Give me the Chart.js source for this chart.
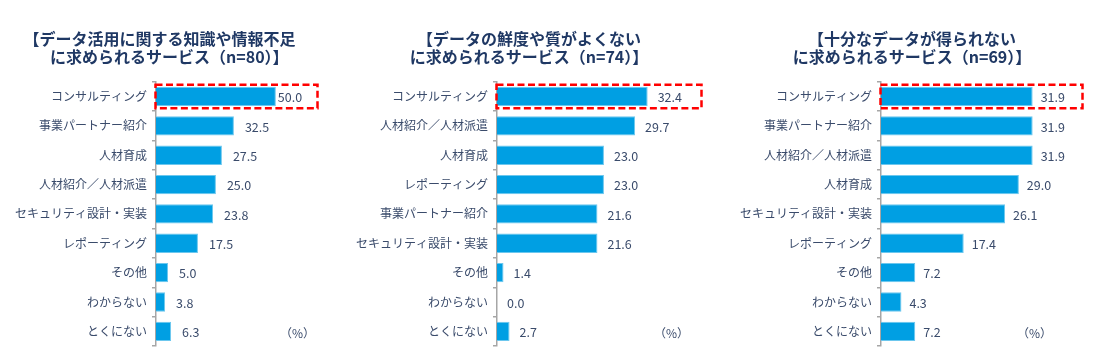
<!DOCTYPE html>
<html>
<head>
<meta charset="utf-8">
<script src="https://cdn.jsdelivr.net/npm/chart.js@4"></script>
<style>
  body { margin: 0; background: #fff; }
  .wrap { position: relative; width: 1093px; height: 360px; }
  .panel { position: absolute; top: 0; height: 360px; }
</style>
</head>
<body>
<div class="wrap">
  <div class="panel" style="left:0;width:365px"><canvas id="chart1"></canvas></div>
  <div class="panel" style="left:355px;width:385px"><canvas id="chart2"></canvas></div>
  <div class="panel" style="left:740px;width:353px"><canvas id="chart3"></canvas></div>
</div>
<script>
// データ
var labels1 = ['コンサルティング', '事業パートナー紹介', '人材育成', '人材紹介／人材派遣', 'セキュリティ設計・実装', 'レポーティング', 'その他', 'わからない', 'とくにない'];
var values1 = [50.0, 32.5, 27.5, 25.0, 23.8, 17.5, 5.0, 3.8, 6.3];
var title1 = ['【データ活用に関する知識や情報不足', '　 に求められるサービス（n=80）】'];

var labels2 = ['コンサルティング', '人材紹介／人材派遣', '人材育成', 'レポーティング', '事業パートナー紹介', 'セキュリティ設計・実装', 'その他', 'わからない', 'とくにない'];
var values2 = [32.4, 29.7, 23.0, 23.0, 21.6, 21.6, 1.4, 0.0, 2.7];
var title2 = ['【データの鮮度や質がよくない', 'に求められるサービス（n=74）】'];

var labels3 = ['コンサルティング', '事業パートナー紹介', '人材紹介／人材派遣', '人材育成', 'セキュリティ設計・実装', 'レポーティング', 'その他', 'わからない', 'とくにない'];
var values3 = [31.9, 31.9, 31.9, 29.0, 26.1, 17.4, 7.2, 4.3, 7.2];
var title3 = ['【十分なデータが得られない', 'に求められるサービス（n=69）】'];

var FONT = "'Noto Sans CJK JP', 'Noto Sans', sans-serif";
var TEXT = '#3A4B6B';
var NAVY = '#1F3864';

// 値ラベル・赤い点線枠・（%）
var extras = {
  id: 'extras',
  afterDatasetsDraw: function(chart, args, opts) {
    var ctx = chart.ctx;
    var meta = chart.getDatasetMeta(0);
    var area = chart.chartArea;
    ctx.save();
    ctx.font = '12.5px ' + FONT;
    ctx.fillStyle = TEXT;
    ctx.textBaseline = 'middle';
    ctx.textAlign = 'left';
    meta.data.forEach(function(bar, i) {
      var v = chart.data.datasets[0].data[i];
      var gap = (i == 0 && opts.firstGap != null) ? opts.firstGap : opts.gap;
      ctx.fillText(v.toFixed(1), bar.x + gap, bar.y + 1);
    });

    // 枠
    var b = meta.data[0];
    var h = b.height + 4;
    ctx.strokeStyle = '#FF0000';
    ctx.lineWidth = 2.5;
    ctx.setLineDash([7, 3.5]);
    ctx.strokeRect(area.left - 0.5, b.y - h / 2, area.right - area.left - 1, h);
    ctx.setLineDash([]);

    ctx.textAlign = 'right';
    ctx.fillStyle = TEXT;
    ctx.font = '12px ' + FONT;
    ctx.fillText('（%）', opts.pctX, 333);
    ctx.restore();
  }
};

function makeChart(id, labels, values, title, max, leftW, rightPad, opts) {
  new Chart(document.getElementById(id), {
    type: 'bar',
    data: {
      labels: labels,
      datasets: [{
        data: values,
        backgroundColor: '#009FE3',
        borderColor: '#6CC7EE',
        borderWidth: 1,
        categoryPercentage: 1,
        barPercentage: 0.66
      }]
    },
    options: {
      indexAxis: 'y',
      responsive: true,
      maintainAspectRatio: false,
      animation: false,
      layout: { padding: { left: 0, right: rightPad, top: 0, bottom: 14 } },
      plugins: {
        legend: { display: false },
        tooltip: { enabled: false },
        title: {
          display: true,
          text: title,
          color: NAVY,
          font: { family: FONT, size: 16, weight: 'bold', lineHeight: 1.12 },
          padding: { top: 30, bottom: 16 }
        },
        extras: opts
      },
      scales: {
        x: { display: false, min: 0, max: max },
        y: {
          afterFit: function(scale) { scale.width = leftW; },
          border: { display: true, color: '#A6A6A6', width: 1.5 },
          grid: { display: true, drawOnChartArea: false, offset: true, color: '#A6A6A6', tickLength: 4, lineWidth: 1.5 },
          ticks: { color: TEXT, font: { family: FONT, size: 12 }, padding: 5 }
        }
      }
    },
    plugins: [extras]
  });
}

makeChart('chart1', labels1, values1, title1, 68, 156, 46, { gap: 11, firstGap: 2, pctX: 315 });
makeChart('chart2', labels2, values2, title2, 44.3, 142, 37, { gap: 10, pctX: 334 });
makeChart('chart3', labels3, values3, title3, 42.7, 141, 9, { gap: 8, pctX: 312 });
</script>
</body>
</html>
